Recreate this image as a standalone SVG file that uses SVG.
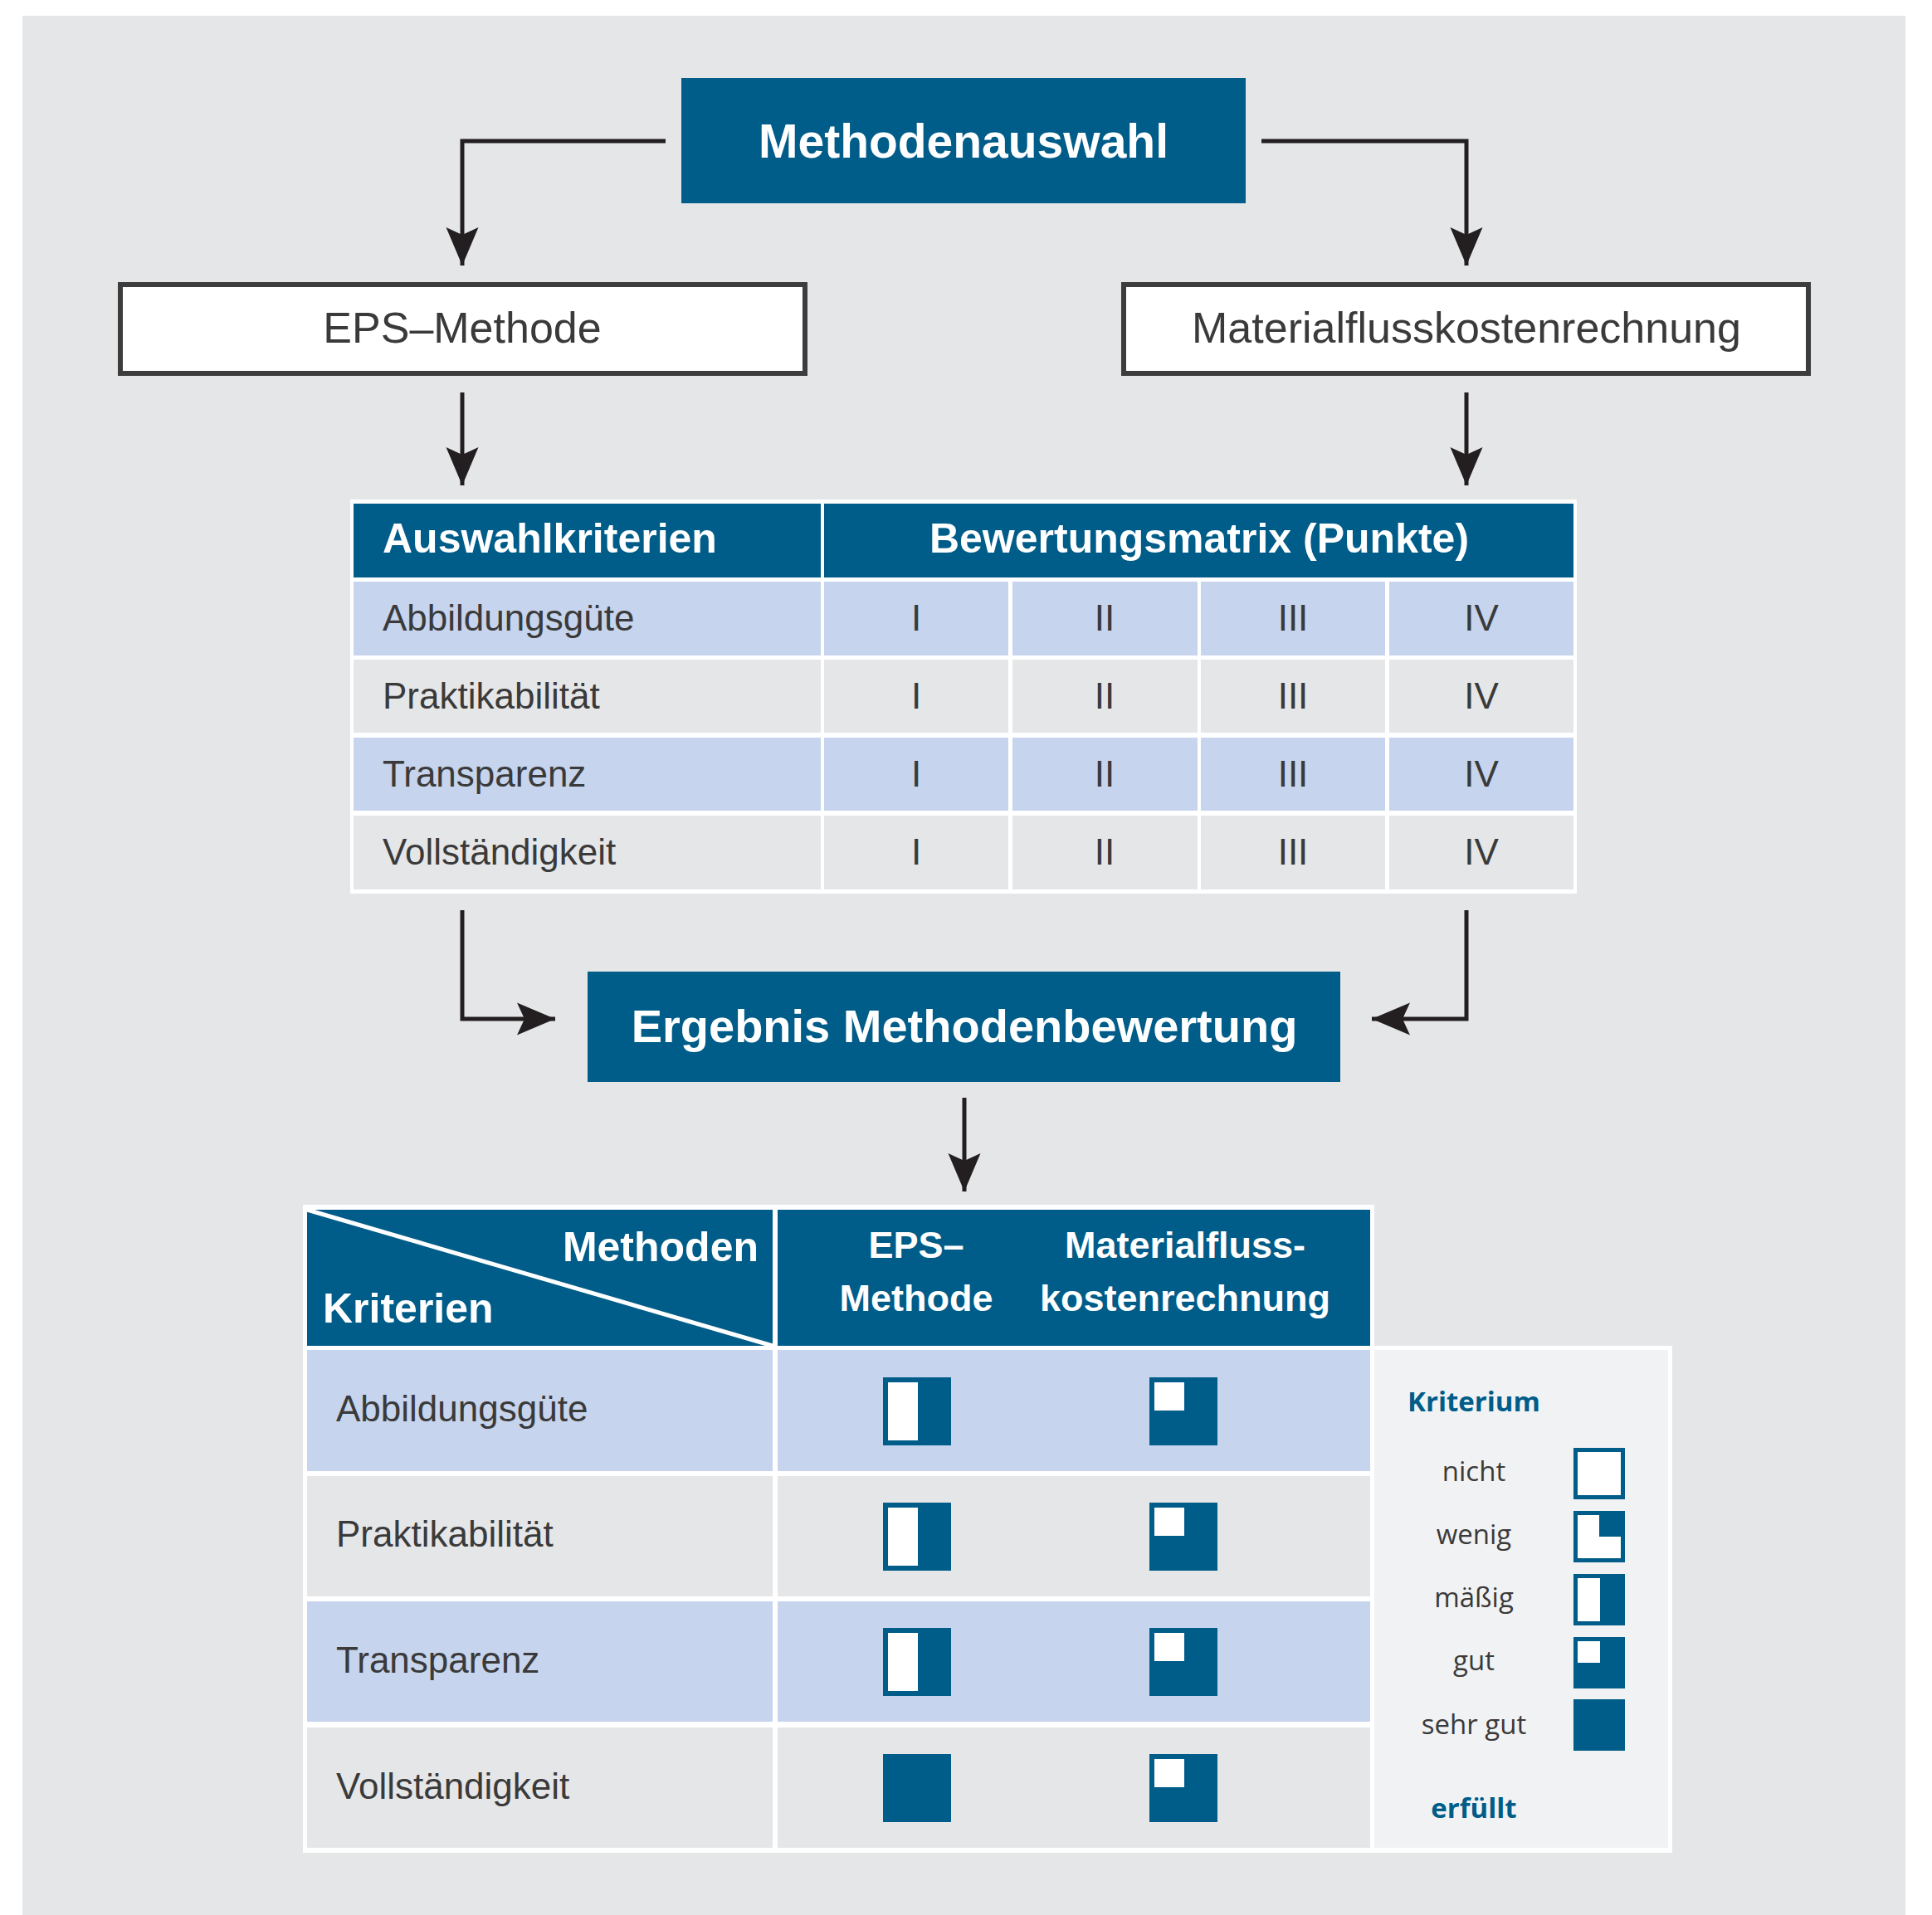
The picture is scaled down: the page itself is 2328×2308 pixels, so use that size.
<svg xmlns="http://www.w3.org/2000/svg" width="2328" height="2308" viewBox="0 0 2328 2308">
<defs>
<style>
.blue{fill:#005c88}
.lb{fill:#c6d4ed}
.gr{fill:#e5e6e8}
.wh{fill:#ffffff}
.tw{font-family:"Liberation Sans",Arial,sans-serif;font-weight:bold;fill:#ffffff}
.tn{font-family:"Liberation Sans",Arial,sans-serif;fill:#3a3a3a}
.lg{font-family:"Open Sans","Noto Sans",sans-serif;font-size:33px;fill:#3a3a3a;text-anchor:middle}
.lgb{font-family:"Open Sans","Noto Sans",sans-serif;font-size:33px;font-weight:bold;fill:#005c88;text-anchor:middle}
.rn{text-anchor:middle;font-size:44px}
.conn{fill:none;stroke:#231f20;stroke-width:5}
</style>
<marker id="ah" markerUnits="userSpaceOnUse" markerWidth="46" markerHeight="40" viewBox="0 -20 46 40" refX="46" refY="0" orient="auto" overflow="visible">
<path d="M46 0 L0 -19.5 L9 0 L0 19.5 Z" fill="#231f20"/>
</marker>
</defs>
<rect x="0" y="0" width="2328" height="2308" fill="#ffffff"/>
<rect x="27" y="19" width="2269" height="2289" fill="#e5e6e8"/>

<g id="connectors">
<path class="conn" d="M802 170 H557 V320" marker-end="url(#ah)"/>
<path class="conn" d="M1520 170 H1767 V320" marker-end="url(#ah)"/>
<path class="conn" d="M557 473 V585" marker-end="url(#ah)"/>
<path class="conn" d="M1767 473 V585" marker-end="url(#ah)"/>
<path class="conn" d="M557 1097 V1228 H669" marker-end="url(#ah)"/>
<path class="conn" d="M1767 1097 V1228 H1653" marker-end="url(#ah)"/>
<path class="conn" d="M1162 1323 V1436" marker-end="url(#ah)"/>
</g>

<g id="methodenauswahl">
<rect class="blue" x="821" y="94" width="680" height="151"/>
<text class="tw" x="1161" y="190" font-size="57" text-anchor="middle">Methodenauswahl</text>
</g>

<g id="eps-methode">
<rect x="145" y="343" width="825" height="107" fill="#ffffff" stroke="#3d3d3d" stroke-width="6"/>
<text class="tn" x="557" y="413" font-size="52" text-anchor="middle">EPS–Methode</text>
</g>

<g id="materialfluss">
<rect x="1354" y="343" width="825" height="107" fill="#ffffff" stroke="#3d3d3d" stroke-width="6"/>
<text class="tn" x="1767" y="413" font-size="52" text-anchor="middle">Materialflusskostenrechnung</text>
</g>

<g id="bewertungsmatrix">
<rect class="wh" x="422" y="602" width="1478" height="475"/>
<rect class="blue" x="426" y="607" width="563" height="89"/>
<rect class="blue" x="993" y="607" width="903" height="89"/>
<text class="tw" x="461" y="666" font-size="50">Auswahlkriterien</text>
<text class="tw" x="1445" y="666" font-size="50" text-anchor="middle">Bewertungsmatrix (Punkte)</text>

<rect class="lb" x="426" y="701" width="563" height="89"/>
<rect class="lb" x="993" y="701" width="222" height="89"/>
<rect class="lb" x="1220" y="701" width="223" height="89"/>
<rect class="lb" x="1447" y="701" width="222" height="89"/>
<rect class="lb" x="1674" y="701" width="222" height="89"/>

<rect class="gr" x="426" y="795" width="563" height="88"/>
<rect class="gr" x="993" y="795" width="222" height="88"/>
<rect class="gr" x="1220" y="795" width="223" height="88"/>
<rect class="gr" x="1447" y="795" width="222" height="88"/>
<rect class="gr" x="1674" y="795" width="222" height="88"/>

<rect class="lb" x="426" y="889" width="563" height="88"/>
<rect class="lb" x="993" y="889" width="222" height="88"/>
<rect class="lb" x="1220" y="889" width="223" height="88"/>
<rect class="lb" x="1447" y="889" width="222" height="88"/>
<rect class="lb" x="1674" y="889" width="222" height="88"/>

<rect class="gr" x="426" y="983" width="563" height="89"/>
<rect class="gr" x="993" y="983" width="222" height="89"/>
<rect class="gr" x="1220" y="983" width="223" height="89"/>
<rect class="gr" x="1447" y="983" width="222" height="89"/>
<rect class="gr" x="1674" y="983" width="222" height="89"/>

<text class="tn" x="461" y="760" font-size="44">Abbildungsgüte</text>
<text class="tn" x="461" y="854" font-size="44">Praktikabilität</text>
<text class="tn" x="461" y="948" font-size="44">Transparenz</text>
<text class="tn" x="461" y="1042" font-size="44">Vollständigkeit</text>

<text class="tn rn" x="1104" y="760">I</text>
<text class="tn rn" x="1331" y="760">II</text>
<text class="tn rn" x="1558" y="760">III</text>
<text class="tn rn" x="1785" y="760">IV</text>
<text class="tn rn" x="1104" y="854">I</text>
<text class="tn rn" x="1331" y="854">II</text>
<text class="tn rn" x="1558" y="854">III</text>
<text class="tn rn" x="1785" y="854">IV</text>
<text class="tn rn" x="1104" y="948">I</text>
<text class="tn rn" x="1331" y="948">II</text>
<text class="tn rn" x="1558" y="948">III</text>
<text class="tn rn" x="1785" y="948">IV</text>
<text class="tn rn" x="1104" y="1042">I</text>
<text class="tn rn" x="1331" y="1042">II</text>
<text class="tn rn" x="1558" y="1042">III</text>
<text class="tn rn" x="1785" y="1042">IV</text>
</g>

<g id="ergebnis">
<rect class="blue" x="708" y="1171" width="907" height="133"/>
<text class="tw" x="1162" y="1256" font-size="56" text-anchor="middle">Ergebnis Methodenbewertung</text>
</g>

<g id="ergebnistabelle">
<rect class="wh" x="365" y="1452" width="1291" height="781"/>
<rect class="blue" x="370" y="1458" width="561" height="164"/>
<rect class="blue" x="937" y="1458" width="714" height="164"/>
<line x1="370" y1="1458" x2="931" y2="1622" stroke="#ffffff" stroke-width="5"/>
<text class="tw" x="914" y="1520" font-size="50" text-anchor="end">Methoden</text>
<text class="tw" x="389" y="1594" font-size="50">Kriterien</text>
<text class="tw" x="1104" y="1516" font-size="45" text-anchor="middle">EPS–</text>
<text class="tw" x="1104" y="1580" font-size="45" text-anchor="middle">Methode</text>
<text class="tw" x="1428" y="1516" font-size="45" text-anchor="middle">Materialfluss-</text>
<text class="tw" x="1428" y="1580" font-size="45" text-anchor="middle">kostenrechnung</text>

<rect class="lb" x="370" y="1627" width="561" height="146"/>
<rect class="lb" x="937" y="1627" width="714" height="146"/>
<rect class="gr" x="370" y="1779" width="561" height="145"/>
<rect class="gr" x="937" y="1779" width="714" height="145"/>
<rect class="lb" x="370" y="1930" width="561" height="145"/>
<rect class="lb" x="937" y="1930" width="714" height="145"/>
<rect class="gr" x="370" y="2082" width="561" height="145"/>
<rect class="gr" x="937" y="2082" width="714" height="145"/>

<text class="tn" x="405" y="1713" font-size="44">Abbildungsgüte</text>
<text class="tn" x="405" y="1864" font-size="44">Praktikabilität</text>
<text class="tn" x="405" y="2016" font-size="44">Transparenz</text>
<text class="tn" x="405" y="2168" font-size="44">Vollständigkeit</text>

<rect class="blue" x="1064" y="1660" width="82" height="82"/>
<rect class="wh" x="1070" y="1666" width="36" height="70"/>
<rect class="blue" x="1385" y="1660" width="82" height="82"/>
<rect class="wh" x="1391" y="1666" width="36" height="34"/>

<rect class="blue" x="1064" y="1811" width="82" height="82"/>
<rect class="wh" x="1070" y="1817" width="36" height="70"/>
<rect class="blue" x="1385" y="1811" width="82" height="82"/>
<rect class="wh" x="1391" y="1817" width="36" height="34"/>

<rect class="blue" x="1064" y="1962" width="82" height="82"/>
<rect class="wh" x="1070" y="1968" width="36" height="70"/>
<rect class="blue" x="1385" y="1962" width="82" height="82"/>
<rect class="wh" x="1391" y="1968" width="36" height="34"/>

<rect class="blue" x="1064" y="2114" width="82" height="82"/>
<rect class="blue" x="1385" y="2114" width="82" height="82"/>
<rect class="wh" x="1391" y="2120" width="36" height="34"/>
</g>

<g id="legende">
<rect class="wh" x="1651" y="1622" width="364" height="611"/>
<rect x="1656" y="1627" width="354" height="600" fill="#f1f2f4"/>
<text class="lgb" x="1776" y="1701">Kriterium</text>
<text class="lg" x="1776" y="1785">nicht</text>
<text class="lg" x="1776" y="1861">wenig</text>
<text class="lg" x="1776" y="1937">mäßig</text>
<text class="lg" x="1776" y="2013">gut</text>
<text class="lg" x="1776" y="2090">sehr gut</text>
<text class="lgb" x="1776" y="2191">erfüllt</text>

<rect class="blue" x="1896" y="1745" width="62" height="62"/>
<rect class="wh" x="1901" y="1750" width="52" height="52"/>

<rect class="blue" x="1896" y="1821" width="62" height="62"/>
<path class="wh" d="M1901 1826 H1927 V1852 H1953 V1878 H1901 Z"/>

<rect class="blue" x="1896" y="1897" width="62" height="62"/>
<rect class="wh" x="1901" y="1902" width="27" height="52"/>

<rect class="blue" x="1896" y="1973" width="62" height="62"/>
<rect class="wh" x="1901" y="1978" width="27" height="26"/>

<rect class="blue" x="1896" y="2048" width="62" height="62"/>
</g>
</svg>
